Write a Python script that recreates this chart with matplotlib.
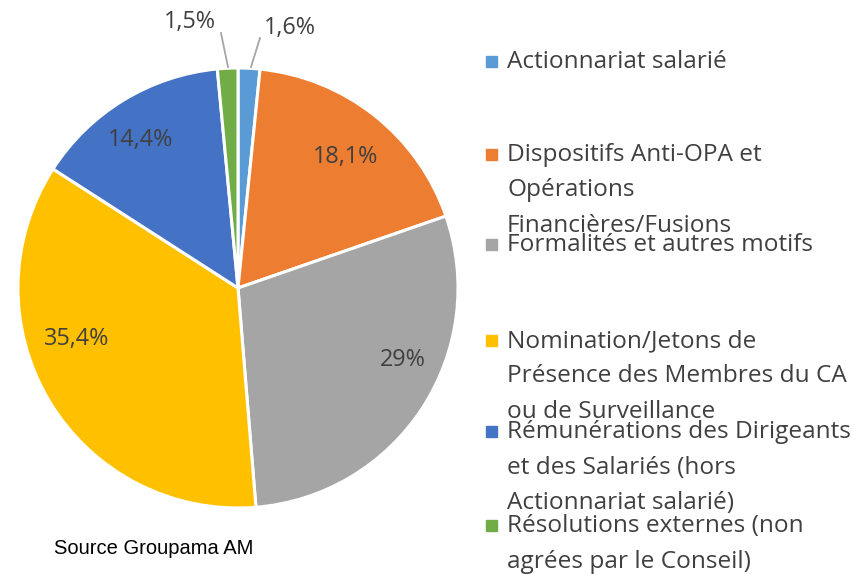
import matplotlib.pyplot as plt
from matplotlib.patches import Rectangle

# donnees
categories = [
    "Actionnariat salarié",
    "Dispositifs Anti-OPA et\nOpérations\nFinancières/Fusions",
    "Formalités et autres motifs",
    "Nomination/Jetons de\nPrésence des Membres du CA\nou de Surveillance",
    "Rémunérations des Dirigeants\net des Salariés (hors\nActionnariat salarié)",
    "Résolutions externes (non\nagrées par le Conseil)",
]
values = [1.6, 18.1, 29, 35.4, 14.4, 1.5]
pct_labels = ["1,6%", "18,1%", "29%", "35,4%", "14,4%", "1,5%"]
colors = ["#5B9BD5", "#ED7D31", "#A5A5A5", "#FFC000", "#4472C4", "#70AD47"]

W, H = 861, 574
fig = plt.figure(figsize=(W / 100, H / 100), dpi=100)
txt_color = "#404040"
font = "Open Sans"

# pie (centre ~ (238,288), rayon ~220 px)
cx, cy, r = 238, 288, 220
ax = fig.add_axes([(cx - r) / W, (H - cy - r) / H, 2 * r / W, 2 * r / H])
ax.pie(values, colors=colors, startangle=90, counterclock=False,
       wedgeprops=dict(edgecolor="white", linewidth=2.2))
ax.set_xlim(-1, 1)
ax.set_ylim(-1, 1)
ax.set_aspect("auto")
ax.axis("off")


def px(x, y):
    return ((x - cx) / r, (cy - y) / r)


# etiquettes des parts
label_pos = [(290, 28), (346, 157), (403, 360), (77, 339), (141, 140), (190, 22)]
for lab, (x, y) in zip(pct_labels, label_pos):
    ax.text(*px(x, y), lab, ha="center", va="center", fontsize=16.8,
            color=txt_color, family=font, clip_on=False)

# lignes de rappel pour les petites parts
for (x0, y0), (x1, y1) in [((260, 38), (251, 67)), ((221, 33), (228, 67))]:
    a, b = px(x0, y0)
    c, d = px(x1, y1)
    ax.plot([a, c], [b, d], color="#A6A6A6", lw=1.3, clip_on=False)

# legende (lignes posees une a une, interligne ~35.5 px)
leg_base = [68, 161, 251, 347, 438, 532]
for lab, col, y in zip(categories, colors, leg_base):
    fig.patches.append(Rectangle((486 / W, (H - y + 1) / H), 11 / W, 11 / H,
                                 transform=fig.transFigure, color=col))
    for i, line in enumerate(lab.split("\n")):
        fig.text(507 / W, (H - y - i * 35.5) / H, line, ha="left",
                 va="baseline", fontsize=17.6, color=txt_color, family=font)

fig.text(54 / W, (H - 548) / H, "Source Groupama AM", ha="left", va="center",
         fontsize=14.5, color="black", family="Liberation Sans")

fig.savefig("out.png", dpi=100)
